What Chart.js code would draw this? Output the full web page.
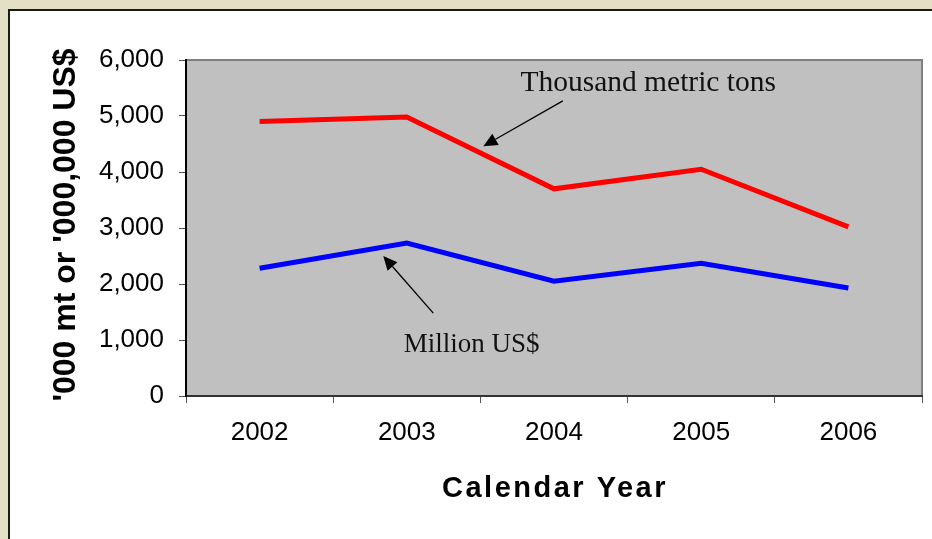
<!DOCTYPE html>
<html>
<head>
<meta charset="utf-8">
<script src="https://cdn.jsdelivr.net/npm/chart.js@4/dist/chart.umd.min.js"></script>
<style>
  html, body { margin: 0; padding: 0; background: #e3e0c5; }
  #wrap { width: 932px; height: 539px; position: relative; }
</style>
</head>
<body>
<div id="wrap"><canvas id="c" width="932" height="539"></canvas></div>
<script>
// Calendar years on the x axis
const years = ['2002', '2003', '2004', '2005', '2006'];
// Volume, thousand metric tons
const tonnes = [4900, 4980, 3700, 4050, 3020];
// Value, million US$
const valueUSD = [2280, 2730, 2050, 2370, 1930];
// Value axis tick range
const yMin = 0, yMax = 6000, yStep = 1000;

const yTitle = "'000 mt or '000,000 US$";
const xTitle = 'Calendar Year';

// Callout labels, anchored in data space (category index, value)
const callouts = [
  { text: 'Thousand metric tons', size: 29.5, at: [2.64, 5590], from: [2.06, 5270], to: [1.52, 4460] },
  { text: 'Million US$', size: 27, at: [1.44, 910], from: [1.18, 1480], to: [0.84, 2500] }
];

const SANS = '"Liberation Sans", Arial, sans-serif';
const SERIF = '"Liberation Serif", "DejaVu Serif", serif';

const framePlugin = {
  id: 'frame',
  beforeDraw(chart) {
    const { ctx, width, height, chartArea: a } = chart;
    ctx.save();
    ctx.fillStyle = '#e3e0c5';
    ctx.fillRect(0, 0, width, height);
    ctx.fillStyle = '#ffffff';
    ctx.fillRect(9, 10, width - 9, height - 10);
    ctx.strokeStyle = '#1a1a1a';
    ctx.lineWidth = 2;
    ctx.beginPath();
    ctx.moveTo(9, height + 2);
    ctx.lineTo(9, 10);
    ctx.lineTo(width + 2, 10);
    ctx.stroke();
    ctx.fillStyle = '#c0c0c0';
    ctx.fillRect(a.left, a.top, a.right - a.left, a.bottom - a.top);
    ctx.strokeStyle = '#808080';
    ctx.lineWidth = 2;
    ctx.beginPath();
    ctx.moveTo(a.left, a.top);
    ctx.lineTo(a.right, a.top);
    ctx.lineTo(a.right, a.bottom);
    ctx.stroke();

    // axis titles
    ctx.fillStyle = '#000';
    ctx.textAlign = 'center';
    ctx.textBaseline = 'alphabetic';
    ctx.font = 'bold 32px ' + SANS;
    ctx.save();
    ctx.translate(75, (a.top + a.bottom) / 2 - 3);
    ctx.rotate(-Math.PI / 2);
    ctx.fillText(yTitle, 0, 0);
    ctx.restore();
    ctx.font = 'bold 29px ' + SANS;
    ctx.letterSpacing = '2.5px';
    ctx.fillText(xTitle, (a.left + a.right) / 2 + 1, 497);
    ctx.restore();
  },
  afterDatasetsDraw(chart) {
    const { ctx, scales: { x, y } } = chart;
    ctx.save();
    ctx.textAlign = 'center';
    ctx.textBaseline = 'middle';
    callouts.forEach(c => {
      ctx.font = c.size + 'px ' + SERIF;
      ctx.fillStyle = '#111111';
      ctx.fillText(c.text, x.getPixelForValue(c.at[0]), y.getPixelForValue(c.at[1]));
      const x1 = x.getPixelForValue(c.from[0]), y1 = y.getPixelForValue(c.from[1]);
      const x2 = x.getPixelForValue(c.to[0]), y2 = y.getPixelForValue(c.to[1]);
      const ang = Math.atan2(y2 - y1, x2 - x1);
      const hl = 14, hw = 6.5;
      const bx = x2 - hl * Math.cos(ang), by = y2 - hl * Math.sin(ang);
      ctx.strokeStyle = '#000';
      ctx.lineWidth = 1.3;
      ctx.beginPath();
      ctx.moveTo(x1, y1);
      ctx.lineTo(bx, by);
      ctx.stroke();
      ctx.fillStyle = '#000';
      ctx.beginPath();
      ctx.moveTo(x2, y2);
      ctx.lineTo(bx + hw * Math.sin(ang), by - hw * Math.cos(ang));
      ctx.lineTo(bx - hw * Math.sin(ang), by + hw * Math.cos(ang));
      ctx.closePath();
      ctx.fill();
    });
    ctx.restore();
  }
};

new Chart(document.getElementById('c'), {
  type: 'line',
  data: {
    labels: years,
    datasets: [
      { label: 'Thousand metric tons', data: tonnes, borderColor: '#ff0000', borderWidth: 5, pointRadius: 0, tension: 0, fill: false },
      { label: 'Million US$', data: valueUSD, borderColor: '#0000ff', borderWidth: 5, pointRadius: 0, tension: 0, fill: false }
    ]
  },
  options: {
    responsive: false,
    animation: false,
    devicePixelRatio: 1,
    layout: { padding: { left: 0, top: 60, right: 10, bottom: 0 } },
    plugins: { legend: { display: false }, tooltip: { enabled: false } },
    scales: {
      x: {
        type: 'category',
        offset: true,
        afterFit(s) { s.height = 143; },
        grid: { offset: true, drawOnChartArea: false, drawTicks: true, tickLength: 7, color: '#555555', lineWidth: 1 },
        border: { display: true, color: '#333333', width: 2 },
        ticks: { color: '#000', font: { family: SANS, size: 26 }, padding: 14, maxRotation: 0 }
      },
      y: {
        min: yMin, max: yMax,
        afterFit(s) { s.width = 186; },
        grid: { drawOnChartArea: false, drawTicks: true, tickLength: 7, color: '#555555', lineWidth: 1 },
        border: { display: true, color: '#000000', width: 2 },
        ticks: { stepSize: yStep, color: '#000', padding: 15,
                 font: { family: SANS, size: 26 },
                 callback: v => v.toLocaleString('en-US') }
      }
    }
  },
  plugins: [framePlugin]
});
</script>
</body>
</html>
